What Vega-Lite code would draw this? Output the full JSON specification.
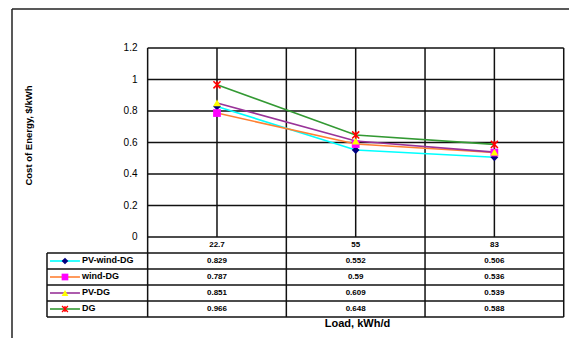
{
  "$schema": "https://vega.github.io/schema/vega-lite/v6.json",
  "width": 557,
  "height": 329,
  "autosize": {"type": "none"},
  "padding": {"left": 12, "top": 9, "right": 0, "bottom": 0},
  "background": "white",
  "config": {"view": {"stroke": "transparent", "strokeWidth": 0}, "font": "Liberation Sans",
    "axisRight": {"domain": false, "labels": false, "ticks": false, "grid": false, "title": null}},
  "datasets": {
    "costs": [
      {"load": "22.7", "idx": 0, "series": "PV-wind-DG", "row": 1, "cost": 0.829},
      {"load": "55", "idx": 1, "series": "PV-wind-DG", "row": 1, "cost": 0.552},
      {"load": "83", "idx": 2, "series": "PV-wind-DG", "row": 1, "cost": 0.506},
      {"load": "22.7", "idx": 0, "series": "wind-DG", "row": 2, "cost": 0.787},
      {"load": "55", "idx": 1, "series": "wind-DG", "row": 2, "cost": 0.59},
      {"load": "83", "idx": 2, "series": "wind-DG", "row": 2, "cost": 0.536},
      {"load": "22.7", "idx": 0, "series": "PV-DG", "row": 3, "cost": 0.851},
      {"load": "55", "idx": 1, "series": "PV-DG", "row": 3, "cost": 0.609},
      {"load": "83", "idx": 2, "series": "PV-DG", "row": 3, "cost": 0.539},
      {"load": "22.7", "idx": 0, "series": "DG", "row": 4, "cost": 0.966},
      {"load": "55", "idx": 1, "series": "DG", "row": 4, "cost": 0.648},
      {"load": "83", "idx": 2, "series": "DG", "row": 4, "cost": 0.588}
    ]
  },
  "resolve": {"scale": {"y": "independent"}, "axis": {"y": "independent"}},
  "layer": [
    {
      "layer": [
        {
          "data": {"values": [{"v": 0}, {"v": 0.2}, {"v": 0.4}, {"v": 0.6}, {"v": 0.8}, {"v": 1.0}, {"v": 1.2}]},
          "mark": {"type": "rule", "color": "#111", "strokeWidth": 1.5},
          "encoding": {
            "y": {"field": "v", "type": "quantitative",
              "scale": {"domain": [-0.6413, 1.4476], "nice": false, "zero": false},
              "axis": {"values": [0, 0.2, 0.4, 0.6, 0.8, 1.0, 1.2], "format": ".1~f", "offset": -136,
                "domain": false, "ticks": false, "grid": false, "labelPadding": 11,
                "labelFontSize": 10, "labelColor": "#000", "labelFont": "Liberation Sans",
                "title": "Cost of Energy, $/kWh", "titleFontSize": 9.5, "titleFontWeight": "bold",
                "titleColor": "#000", "titleX": -120, "titleY": 126, "titleBaseline": "middle", "titleAlign": "center"}},
            "x": {"datum": -0.5, "type": "quantitative", "scale": {"domain": [-1.478, 2.538], "nice": false, "zero": false},
              "axis": {"title": "Load, kWh/d", "labels": false, "ticks": false, "domain": false, "grid": false,
                "titleX": 345, "titleY": -15, "titleFontSize": 11, "titleFontWeight": "bold", "titleColor": "#000",
                "titleBaseline": "middle", "titleAlign": "center"}},
            "x2": {"datum": 2.5}
          }
        },
        {
          "data": {"values": [{"v": -0.1016}, {"v": -0.2032}, {"v": -0.3048}, {"v": -0.4064}, {"v": -0.508}]},
          "mark": {"type": "rule", "color": "#111", "strokeWidth": 1.5},
          "encoding": {
            "y": {"field": "v", "type": "quantitative", "scale": {"domain": [-0.6413, 1.4476], "nice": false, "zero": false}},
            "x": {"datum": -1.2257, "type": "quantitative", "scale": {"domain": [-1.478, 2.538], "nice": false, "zero": false}},
            "x2": {"datum": 2.5}
          }
        },
        {
          "data": {"values": [{"c": 0}, {"c": 1}, {"c": 2}]},
          "mark": {"type": "rule", "color": "#111", "strokeWidth": 1.5},
          "encoding": {
            "x": {"field": "c", "type": "quantitative", "scale": {"domain": [-1.478, 2.538], "nice": false, "zero": false}},
            "y": {"datum": 0, "type": "quantitative", "scale": {"domain": [-0.6413, 1.4476], "nice": false, "zero": false}},
            "y2": {"datum": 1.2}
          }
        },
        {
          "data": {"values": [{"c": -0.5}, {"c": 0.5}, {"c": 1.5}, {"c": 2.5}]},
          "mark": {"type": "rule", "color": "#111", "strokeWidth": 1.5},
          "encoding": {
            "x": {"field": "c", "type": "quantitative", "scale": {"domain": [-1.478, 2.538], "nice": false, "zero": false}},
            "y": {"datum": -0.508, "type": "quantitative", "scale": {"domain": [-0.6413, 1.4476], "nice": false, "zero": false}},
            "y2": {"datum": 1.2}
          }
        },
        {
          "data": {"values": [{"edge": "legend-left"}]},
          "mark": {"type": "rule", "color": "#111", "strokeWidth": 1.5},
          "encoding": {
            "x": {"datum": -1.2257, "type": "quantitative", "scale": {"domain": [-1.478, 2.538], "nice": false, "zero": false}},
            "y": {"datum": -0.508, "type": "quantitative", "scale": {"domain": [-0.6413, 1.4476], "nice": false, "zero": false}},
            "y2": {"datum": -0.1016}
          }
        },
        {
          "data": {"values": [{"edge": "left"}]},
          "mark": {"type": "rule", "color": "#222", "strokeWidth": 1.5},
          "encoding": {
            "x": {"datum": -1.478, "type": "quantitative", "scale": {"domain": [-1.478, 2.538], "nice": false, "zero": false}},
            "y": {"datum": -0.6413, "type": "quantitative", "scale": {"domain": [-0.6413, 1.4476], "nice": false, "zero": false}},
            "y2": {"datum": 1.4476}
          }
        },
        {
          "data": {"values": [{"edge": "top"}]},
          "mark": {"type": "rule", "color": "#222", "strokeWidth": 1.5},
          "encoding": {
            "x": {"datum": -1.478, "type": "quantitative", "scale": {"domain": [-1.478, 2.538], "nice": false, "zero": false}},
            "x2": {"datum": 2.538},
            "y": {"datum": 1.4476, "type": "quantitative", "scale": {"domain": [-0.6413, 1.4476], "nice": false, "zero": false}}
          }
        },
        {
          "data": {"name": "costs"},
          "mark": {"type": "line", "strokeWidth": 1.6},
          "encoding": {
            "x": {"field": "idx", "type": "quantitative", "scale": {"domain": [-1.478, 2.538], "nice": false, "zero": false}},
            "y": {"field": "cost", "type": "quantitative", "scale": {"domain": [-0.6413, 1.4476], "nice": false, "zero": false}},
            "color": {"field": "series", "type": "nominal",
              "scale": {"domain": ["PV-wind-DG", "wind-DG", "PV-DG", "DG"], "range": ["#00FFFF", "#FF8033", "#993399", "#339933"]},
              "legend": null},
            "order": {"field": "idx"}
          }
        },
        {
          "data": {"name": "costs"},
          "transform": [{"filter": "datum.series !== 'DG'"}],
          "mark": {"type": "point", "filled": true, "size": 60, "opacity": 1},
          "encoding": {
            "x": {"field": "idx", "type": "quantitative", "scale": {"domain": [-1.478, 2.538], "nice": false, "zero": false}},
            "y": {"field": "cost", "type": "quantitative", "scale": {"domain": [-0.6413, 1.4476], "nice": false, "zero": false}},
            "shape": {"field": "series", "type": "nominal",
              "scale": {"domain": ["PV-wind-DG", "wind-DG", "PV-DG"], "range": ["diamond", "square", "triangle-up"]}, "legend": null},
            "fill": {"field": "series", "type": "nominal",
              "scale": {"domain": ["PV-wind-DG", "wind-DG", "PV-DG"], "range": ["#000080", "#FF00FF", "#FFFF00"]}, "legend": null}
          }
        },
        {
          "data": {"name": "costs"},
          "transform": [{"filter": "datum.series === 'DG'"}],
          "mark": {"type": "point", "filled": false, "size": 50, "opacity": 1, "color": "#FF0000", "strokeWidth": 1.5,
            "shape": "M-1,-1L1,1M-1,1L1,-1M0,-1L0,1"},
          "encoding": {
            "x": {"field": "idx", "type": "quantitative", "scale": {"domain": [-1.478, 2.538], "nice": false, "zero": false}},
            "y": {"field": "cost", "type": "quantitative", "scale": {"domain": [-0.6413, 1.4476], "nice": false, "zero": false}}
          }
        }
      ]
    },
    {
      "layer": [
        {
          "data": {"name": "costs"},
          "transform": [{"filter": "datum.series === 'DG'"}],
          "mark": {"type": "text", "fontSize": 8, "fontWeight": "bold", "color": "#000", "align": "center", "baseline": "middle"},
          "encoding": {
            "x": {"field": "idx", "type": "quantitative", "scale": {"domain": [-1.478, 2.538], "nice": false, "zero": false}},
            "y": {"datum": 0, "type": "quantitative", "scale": {"domain": [5.8125, -14.75], "nice": false, "zero": false}, "axis": null},
            "text": {"field": "load"}
          }
        },
        {
          "data": {"name": "costs"},
          "mark": {"type": "text", "fontSize": 8, "fontWeight": "bold", "color": "#000", "align": "center", "baseline": "middle"},
          "encoding": {
            "x": {"field": "idx", "type": "quantitative", "scale": {"domain": [-1.478, 2.538], "nice": false, "zero": false}},
            "y": {"field": "row", "type": "quantitative", "scale": {"domain": [5.8125, -14.75], "nice": false, "zero": false}, "axis": null},
            "text": {"field": "cost", "format": ".3~f"}
          }
        },
        {
          "data": {"name": "costs"},
          "transform": [{"filter": "datum.idx === 0"}],
          "mark": {"type": "rule", "strokeWidth": 1.6},
          "encoding": {
            "x": {"datum": -1.204, "type": "quantitative", "scale": {"domain": [-1.478, 2.538], "nice": false, "zero": false}},
            "x2": {"datum": -0.988},
            "y": {"field": "row", "type": "quantitative", "scale": {"domain": [5.8125, -14.75], "nice": false, "zero": false}, "axis": null},
            "color": {"field": "series", "type": "nominal",
              "scale": {"domain": ["PV-wind-DG", "wind-DG", "PV-DG", "DG"], "range": ["#00FFFF", "#FF8033", "#993399", "#339933"]},
              "legend": null}
          }
        },
        {
          "data": {"name": "costs"},
          "transform": [{"filter": "datum.idx === 0 && datum.series !== 'DG'"}],
          "mark": {"type": "point", "filled": true, "size": 45, "opacity": 1},
          "encoding": {
            "x": {"datum": -1.096, "type": "quantitative", "scale": {"domain": [-1.478, 2.538], "nice": false, "zero": false}},
            "y": {"field": "row", "type": "quantitative", "scale": {"domain": [5.8125, -14.75], "nice": false, "zero": false}, "axis": null},
            "shape": {"field": "series", "type": "nominal",
              "scale": {"domain": ["PV-wind-DG", "wind-DG", "PV-DG"], "range": ["diamond", "square", "triangle-up"]}, "legend": null},
            "fill": {"field": "series", "type": "nominal",
              "scale": {"domain": ["PV-wind-DG", "wind-DG", "PV-DG"], "range": ["#000080", "#FF00FF", "#FFFF00"]}, "legend": null}
          }
        },
        {
          "data": {"name": "costs"},
          "transform": [{"filter": "datum.idx === 0 && datum.series === 'DG'"}],
          "mark": {"type": "point", "filled": false, "size": 35, "opacity": 1, "color": "#FF0000", "strokeWidth": 1.3,
            "shape": "M-1,-1L1,1M-1,1L1,-1M0,-1L0,1"},
          "encoding": {
            "x": {"datum": -1.096, "type": "quantitative", "scale": {"domain": [-1.478, 2.538], "nice": false, "zero": false}},
            "y": {"field": "row", "type": "quantitative", "scale": {"domain": [5.8125, -14.75], "nice": false, "zero": false}, "axis": null}
          }
        },
        {
          "data": {"name": "costs"},
          "transform": [{"filter": "datum.idx === 0"}],
          "mark": {"type": "text", "fontSize": 9, "fontWeight": "bold", "color": "#000", "align": "left", "baseline": "middle", "dy": -1},
          "encoding": {
            "x": {"datum": -0.973, "type": "quantitative", "scale": {"domain": [-1.478, 2.538], "nice": false, "zero": false}},
            "y": {"field": "row", "type": "quantitative", "scale": {"domain": [5.8125, -14.75], "nice": false, "zero": false}, "axis": null},
            "text": {"field": "series"}
          }
        }
      ]
    }
  ]
}
